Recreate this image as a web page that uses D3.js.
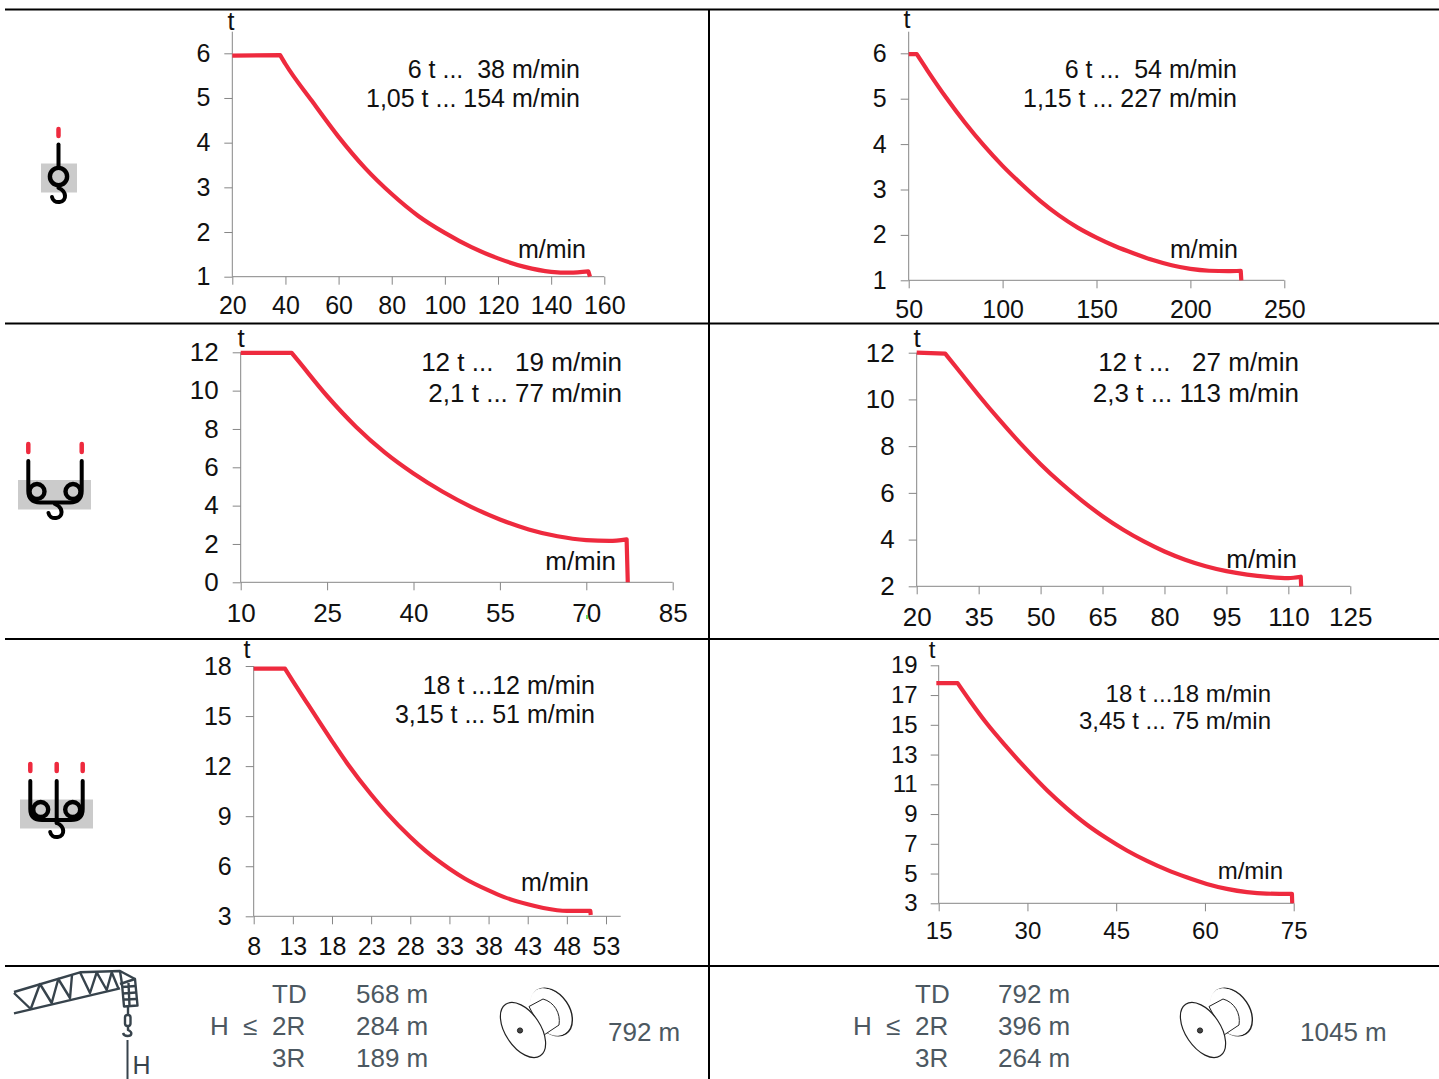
<!DOCTYPE html>
<html>
<head>
<meta charset="utf-8">
<title>Hoist speed curves</title>
<script src="https://cdn.jsdelivr.net/npm/d3@7"></script>
<style>
  html, body { margin: 0; padding: 0; background: #fff; }
  svg { display: block; }
  text { font-family: "Liberation Sans", Arial, sans-serif; fill: #111; white-space: pre; }
</style>
</head>
<body>
<svg id="chart" width="1439" height="1079"></svg>
<script>
// Values: speed in m/min, load in t.
var speed_a = [20, 38, 40, 50, 60, 70, 80, 90, 100, 110, 120, 130, 140, 147, 154, 154.6];
var load_a  = [5.95, 5.96, 5.76, 4.93, 4.13, 3.43, 2.85, 2.36, 1.98, 1.66, 1.41, 1.22, 1.11, 1.09, 1.12, 1.0];
var x_ticks_a = [20, 40, 60, 80, 100, 120, 140, 160];
var y_ticks_a = [1, 2, 3, 4, 5, 6];

var speed_b = [50, 54.3, 60, 70, 80, 90, 100, 110, 120, 130, 140, 150, 160, 170, 180, 190, 200, 210, 220, 226.8, 227.1];
var load_b  = [5.98, 5.98, 5.62, 5.02, 4.47, 3.97, 3.52, 3.12, 2.75, 2.43, 2.16, 1.94, 1.75, 1.59, 1.445, 1.33, 1.25, 1.21, 1.2, 1.21, 1.0];
var x_ticks_b = [50, 100, 150, 200, 250];
var y_ticks_b = [1, 2, 3, 4, 5, 6];

var speed_c = [10, 18.85, 20, 25, 30, 35, 40, 45, 50, 55, 60, 65, 70, 74, 77, 77.2];
var load_c  = [11.97, 11.97, 11.55, 9.72, 8.12, 6.78, 5.68, 4.74, 3.94, 3.28, 2.76, 2.4, 2.2, 2.16, 2.24, 0];
var x_ticks_c = [10, 25, 40, 55, 70, 85];
var y_ticks_c = [0, 2, 4, 6, 8, 10, 12];

var speed_d = [20, 26.9, 30, 35, 40, 45, 50, 55, 60, 65, 70, 75, 80, 85, 90, 95, 100, 105, 110, 113, 113.1];
var load_d  = [12, 11.96, 11.28, 10.18, 9.13, 8.14, 7.23, 6.41, 5.67, 5.0, 4.42, 3.92, 3.49, 3.14, 2.86, 2.65, 2.5, 2.4, 2.35, 2.41, 2.0];
var x_ticks_d = [20, 35, 50, 65, 80, 95, 110, 125];
var y_ticks_d = [2, 4, 6, 8, 10, 12];

var speed_e = [8, 12, 13, 15, 18, 20, 23, 25, 28, 30, 33, 35, 38, 40, 43, 45, 48, 51, 51.05];
var load_e  = [17.84, 17.84, 17.1, 15.65, 13.5, 12.13, 10.3, 9.2, 7.75, 6.9, 5.85, 5.25, 4.55, 4.15, 3.72, 3.5, 3.32, 3.32, 3.08];
var x_ticks_e = [8, 13, 18, 23, 28, 33, 38, 43, 48, 53];
var y_ticks_e = [3, 6, 9, 12, 15, 18];

var speed_f = [14.6, 18.2, 20.3, 23.1, 26.5, 29.9, 33.3, 36.6, 40, 43.4, 46.8, 50.2, 53.5, 56.9, 60.3, 63.7, 67.1, 70.4, 74.7, 74.75];
var load_f  = [17.8, 17.8, 16.6, 15.1, 13.5, 12.0, 10.6, 9.4, 8.3, 7.37, 6.55, 5.85, 5.26, 4.75, 4.3, 3.97, 3.75, 3.65, 3.63, 3];
var x_ticks_f = [15, 30, 45, 60, 75];
var y_ticks_f = [3, 5, 7, 9, 11, 13, 15, 17, 19];

var notes_a = ["6 t ...  38 m/min", "1,05 t ... 154 m/min"];
var notes_b = ["6 t ...  54 m/min", "1,15 t ... 227 m/min"];
var notes_c = ["12 t ...   19 m/min", "2,1 t ... 77 m/min"];
var notes_d = ["12 t ...   27 m/min", "2,3 t ... 113 m/min"];
var notes_e = ["18 t ...12 m/min", "3,15 t ... 51 m/min"];
var notes_f = ["18 t ...18 m/min", "3,45 t ... 75 m/min"];

var falls = ["TD", "2R", "3R"];
var heights_left  = ["568 m", "284 m", "189 m"];
var heights_right = ["792 m", "396 m", "264 m"];
var rope_left  = "792 m";
var rope_right = "1045 m";

var RED = "#ee2a3e";
var AXIS_GRAY = "#868686";
var SLATE = "#37434c";
var FOOT_TEXT = "#4c5861";

var svg = d3.select("#chart");

// Frame of the table
function draw_frame() {
  var frame = svg.append("g").attr("stroke", "#000").attr("stroke-width", 2);
  [9.5, 323.5, 639, 966].forEach(function (y) {
    frame.append("line").attr("x1", 5).attr("x2", 1439).attr("y1", y).attr("y2", y);
  });
  frame.append("line").attr("x1", 709).attr("x2", 709).attr("y1", 9).attr("y2", 1079);
}

// One load chart.  box holds the pixel layout for that panel.
function draw_panel(speed, load, x_ticks, y_ticks, notes, box) {
  var x = d3.scaleLinear()
    .domain([x_ticks[0], x_ticks[x_ticks.length - 1]])
    .range([box.x0, box.x1]);
  var y = d3.scaleLinear()
    .domain([y_ticks[0], y_ticks[y_ticks.length - 1]])
    .range([box.y0, box.y1]);

  var g = svg.append("g");

  var x_axis = g.append("g")
    .attr("transform", "translate(0," + box.y0 + ")")
    .call(d3.axisBottom(x).tickValues(x_ticks).tickSize(8).tickPadding(box.x_pad).tickFormat(d3.format("d")));
  var y_axis = g.append("g")
    .attr("transform", "translate(" + box.x0 + ",0)")
    .call(d3.axisLeft(y).tickValues(y_ticks).tickSize(8).tickPadding(box.y_pad).tickFormat(d3.format("d")));

  [x_axis, y_axis].forEach(function (axis) {
    axis.select(".domain").remove();
    axis.selectAll("line").attr("stroke", AXIS_GRAY);
    axis.selectAll("text")
      .attr("fill", "#111")
      .style("font-size", box.font + "px")
      .style("font-family", '"Liberation Sans", Arial, sans-serif');
  });

  // The axis lines run on past the last tick in some panels
  g.append("line")
    .attr("x1", box.x0).attr("x2", box.x_end || box.x1)
    .attr("y1", box.y0).attr("y2", box.y0)
    .attr("stroke", AXIS_GRAY);
  g.append("line")
    .attr("x1", box.x0).attr("x2", box.x0)
    .attr("y1", box.y0).attr("y2", box.y_top || box.y1)
    .attr("stroke", AXIS_GRAY);

  var straight = d3.line()
    .x(function (d) { return x(d[0]); })
    .y(function (d) { return y(d[1]); });
  var smooth = d3.line()
    .x(function (d) { return x(d[0]); })
    .y(function (d) { return y(d[1]); })
    .curve(d3.curveMonotoneX);

  // Flat start and the drop at the end stay straight, only the middle is a curve
  var pts = d3.zip(speed, load);
  var n = pts.length;
  var d = straight(pts.slice(0, 2)) +
    smooth(pts.slice(1, n - 1)).replace("M", "L") +
    straight(pts.slice(n - 2)).replace("M", "L");

  g.append("path")
    .attr("d", d)
    .attr("fill", "none")
    .attr("stroke", RED)
    .attr("stroke-width", 4.2)
    .attr("stroke-linejoin", "round");

  g.append("text").attr("x", box.t[0]).attr("y", box.t[1])
    .attr("text-anchor", "middle").style("font-size", box.font + "px").text("t");
  g.append("text").attr("x", box.unit[0]).attr("y", box.unit[1])
    .attr("text-anchor", "end").style("font-size", box.font + "px").text("m/min");

  notes.forEach(function (note, i) {
    g.append("text")
      .attr("x", box.note_x).attr("y", box.note_y[i])
      .attr("text-anchor", "end")
      .style("font-size", box.font + "px")
      .text(note);
  });
}

// Reeving symbols on the left.  The hook is the same little shape every time.
function hook(g, cx, top) {
  g.append("path")
    .attr("d", "M" + cx + "," + top +
      " C" + (cx + 8) + "," + (top + 3) + " " + (cx + 9) + "," + (top + 13) + " " + (cx + 1) + "," + (top + 14) +
      " C" + (cx - 3) + "," + (top + 14.5) + " " + (cx - 6) + "," + (top + 12) + " " + (cx - 6.5) + "," + (top + 9))
    .attr("fill", "none").attr("stroke", "#000").attr("stroke-width", 4).attr("stroke-linecap", "round");
}

function red_pills(g, xs, y1, y2) {
  xs.forEach(function (x) {
    g.append("line").attr("x1", x).attr("x2", x).attr("y1", y1).attr("y2", y2)
      .attr("stroke", RED).attr("stroke-width", 4.5).attr("stroke-linecap", "round");
  });
}

function ring(g, cx, cy, r) {
  g.append("circle").attr("cx", cx).attr("cy", cy).attr("r", r)
    .attr("fill", "none").attr("stroke", "#000").attr("stroke-width", 4.4);
}

function draw_symbols() {
  var g = svg.append("g");

  // single fall
  g.append("rect").attr("x", 41).attr("y", 163.5).attr("width", 36).attr("height", 29).attr("fill", "#cbcbcb");
  red_pills(g, [58.5], 129, 136);
  g.append("line").attr("x1", 58.5).attr("x2", 58.5).attr("y1", 144.5).attr("y2", 168)
    .attr("stroke", "#000").attr("stroke-width", 4).attr("stroke-linecap", "round");
  ring(g, 58.5, 176.5, 8.6);
  hook(g, 58.5, 188);

  // two falls
  g.append("rect").attr("x", 18).attr("y", 480).attr("width", 73).attr("height", 29.5).attr("fill", "#cbcbcb");
  red_pills(g, [28.3, 81.7], 444, 452);
  g.append("path")
    .attr("d", "M28.3,461 V491 C28.3,498 32,502.5 40,502.5 H70 C78,502.5 81.7,498 81.7,491 V461")
    .attr("fill", "none").attr("stroke", "#000").attr("stroke-width", 4).attr("stroke-linecap", "round");
  ring(g, 37, 491.5, 7.5);
  ring(g, 73, 491.5, 7.5);
  hook(g, 55, 504);

  // three falls
  g.append("rect").attr("x", 20).attr("y", 799.5).attr("width", 73).attr("height", 29).attr("fill", "#cbcbcb");
  red_pills(g, [30.3, 56.7, 82.7], 764, 771);
  g.append("path")
    .attr("d", "M30.3,781 V809 C30.3,816 34,820 42,820 H71 C79,820 82.7,816 82.7,809 V781")
    .attr("fill", "none").attr("stroke", "#000").attr("stroke-width", 4).attr("stroke-linecap", "round");
  g.append("line").attr("x1", 56.7).attr("x2", 56.7).attr("y1", 781).attr("y2", 823)
    .attr("stroke", "#000").attr("stroke-width", 4).attr("stroke-linecap", "round");
  ring(g, 40.7, 809.5, 7.5);
  ring(g, 72.7, 809.5, 7.5);
  hook(g, 56.7, 823);
}

// Crane jib in the bottom left corner
function draw_crane() {
  var g = svg.append("g")
    .attr("fill", "none").attr("stroke", SLATE).attr("stroke-width", 2.4).attr("stroke-linejoin", "round");

  g.append("path").attr("d", "M14,1013.3 L120,988.3");
  g.append("path").attr("d", "M14,992 L80,972.3 L120,971 L135,979");
  g.append("path").attr("d", "M14,993 L30.7,1009 L40,984 L51.7,1003 L58.3,979 L70,998 L72,975 M80,972.3 L90,993 L96.7,972.3 L106.7,990 L111.7,972.3 L118.3,988.3");
  g.append("path").attr("d", "M120,971 L122,984 L124,1006.5 L137.5,1005.5 L135,979 L120,984");
  g.append("path").attr("d", "M122,987 L135.5,986 M123,993.5 L136,992.5 M123.5,999.5 L136.7,999 M128.5,983 L129.5,1006");
  g.append("path").attr("d", "M128,1006.5 V1015");
  g.append("rect").attr("x", 125).attr("y", 1015).attr("width", 5.5).attr("height", 11).attr("rx", 2.5);
  g.append("path").attr("d", "M128,1026 V1030 C133,1032 132,1036 127.5,1036 C125,1036 123.5,1034.5 123,1033");

  g.append("line").attr("x1", 127.5).attr("x2", 127.5).attr("y1", 1040).attr("y2", 1079)
    .attr("stroke-width", 2);
  svg.append("text").attr("x", 132.5).attr("y", 1073.5)
    .style("font-size", "25px").style("fill", SLATE).text("H");
}

// Cable drum, dx moves it to the right hand column
function draw_drum(dx) {
  var g = svg.append("g")
    .attr("transform", "translate(" + dx + ",0)")
    .attr("fill", "#fff").attr("stroke", "#222").attr("stroke-width", 1);

  g.append("ellipse").attr("rx", 26).attr("ry", 18)
    .attr("transform", "translate(551.5,1012) rotate(56)").attr("stroke-width", 1.4);
  g.append("ellipse").attr("rx", 25.5).attr("ry", 17)
    .attr("transform", "translate(550,1012) rotate(56)").attr("stroke", "#fff");
  g.append("path")
    .attr("d", "M529,1006.5 L543,999 C554,1002 561,1013 559,1025 L544,1035 Z");
  g.append("ellipse").attr("rx", 31).attr("ry", 17.5)
    .attr("transform", "translate(523,1030) rotate(56)").attr("stroke-width", 1.2);
  g.append("circle").attr("cx", 520).attr("cy", 1030.5).attr("r", 2.6).attr("fill", "#444");
}

function draw_footer(x_h, x_le, x_fall, x_val, heights, x_rope, rope) {
  var g = svg.append("g").style("font-size", "26px");
  var rows = [1003, 1035, 1067];

  falls.forEach(function (fall, i) {
    g.append("text").attr("x", x_fall).attr("y", rows[i]).style("fill", FOOT_TEXT).text(fall);
    g.append("text").attr("x", x_val).attr("y", rows[i]).style("fill", FOOT_TEXT).text(heights[i]);
  });
  g.append("text").attr("x", x_h).attr("y", rows[1]).style("fill", FOOT_TEXT).text("H");
  g.append("text").attr("x", x_le).attr("y", rows[1]).style("fill", FOOT_TEXT).text("≤");
  g.append("text").attr("x", x_rope).attr("y", 1041).style("fill", FOOT_TEXT).text(rope);
}

draw_frame();

draw_panel(speed_a, load_a, x_ticks_a, y_ticks_a, notes_a, {
  x0: 232.3, x1: 604.3, y0: 276.7, y1: 53.3, y_top: 31.7, font: 25,
  x_pad: 12, y_pad: 14, t: [231, 30], unit: [586, 258], note_x: 580, note_y: [78, 107]
});
draw_panel(speed_b, load_b, x_ticks_b, y_ticks_b, notes_b, {
  x0: 908.7, x1: 1284.3, y0: 280.3, y1: 53.3, y_top: 31.7, font: 25,
  x_pad: 12, y_pad: 14, t: [907, 28], unit: [1238, 258], note_x: 1237, note_y: [78, 107]
});
draw_panel(speed_c, load_c, x_ticks_c, y_ticks_c, notes_c, {
  x0: 240.7, x1: 672.7, y0: 582.3, y1: 352.3, font: 26,
  x_pad: 13, y_pad: 14, t: [241, 347], unit: [616, 570], note_x: 622, note_y: [371, 402]
});
draw_panel(speed_d, load_d, x_ticks_d, y_ticks_d, notes_d, {
  x0: 916.7, x1: 1350.3, y0: 586.3, y1: 352.7, font: 26,
  x_pad: 13, y_pad: 14, t: [917, 347], unit: [1297, 568], note_x: 1299, note_y: [371, 402]
});
draw_panel(speed_e, load_e, x_ticks_e, y_ticks_e, notes_e, {
  x0: 253.7, x1: 606, x_end: 620.7, y0: 916.3, y1: 666, font: 25,
  x_pad: 13, y_pad: 14, t: [247, 658], unit: [589, 891], note_x: 595, note_y: [694, 723]
});
draw_panel(speed_f, load_f, x_ticks_f, y_ticks_f, notes_f, {
  x0: 938.7, x1: 1293.7, y0: 903.3, y1: 665.3, font: 24,
  x_pad: 11, y_pad: 13, t: [932, 658], unit: [1283, 879], note_x: 1271, note_y: [702, 729]
});

// Small green speck sitting on the 70 label in the source image
svg.append("rect").attr("x", 586).attr("y", 615).attr("width", 2).attr("height", 4).attr("fill", "#6fdc5a");

draw_symbols();
draw_crane();
draw_drum(0);
draw_drum(680);
draw_footer(210, 243, 272, 356, heights_left, 608, rope_left);
draw_footer(853, 886, 915, 998, heights_right, 1300, rope_right);
</script>
</body>
</html>
